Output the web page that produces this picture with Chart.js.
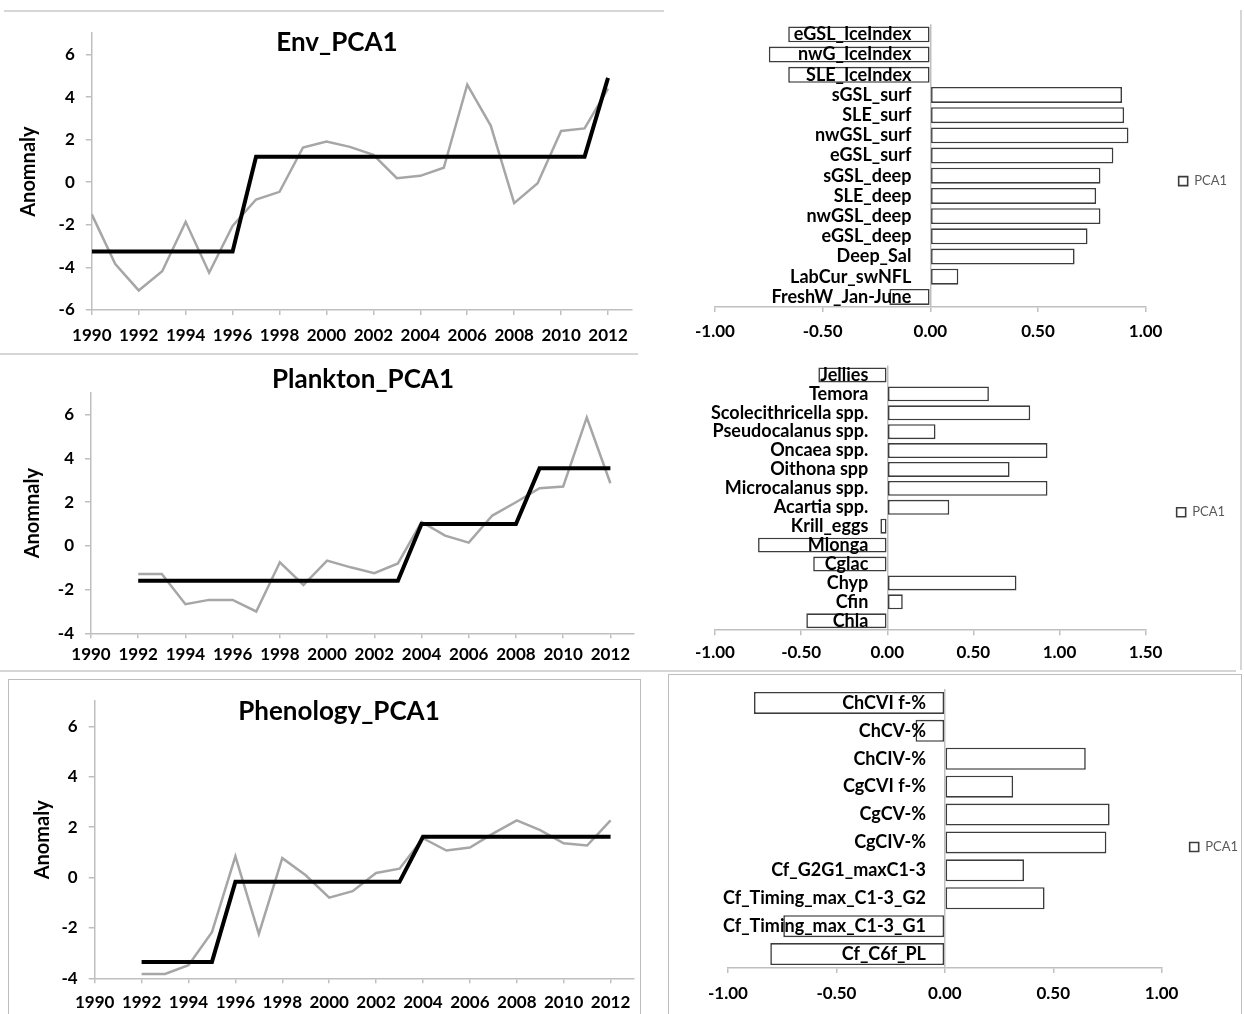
<!DOCTYPE html>
<html><head><meta charset="utf-8">
<script src="https://cdn.jsdelivr.net/npm/chart.js@4/dist/chart.umd.min.js"></script>
<style>
html,body{margin:0;padding:0;background:#fff;overflow:hidden;width:1244px;height:1014px;position:relative;}
canvas{position:absolute;display:block;}
.hl{position:absolute;height:0;border-top:2px solid #d6d6d6;}
.vl{position:absolute;width:0;border-left:2px solid #d6d6d6;}
.frame{position:absolute;border:1px solid #bdbdbd;}
</style></head><body>
<div class="hl" style="left:4px;top:10px;width:660px"></div>
<div class="hl" style="left:0px;top:353px;width:638px"></div>
<div class="hl" style="left:0px;top:670px;width:1236px"></div>
<div class="vl" style="left:1240px;top:10px;height:660px"></div>
<div class="frame" style="left:8px;top:679px;width:631px;height:345px"></div>
<div class="frame" style="left:668px;top:674px;width:572px;height:350px"></div>

<canvas id="envLine" width="665" height="340" style="left:0px;top:12px"></canvas>
<canvas id="planktonLine" width="665" height="315" style="left:0px;top:357px"></canvas>
<canvas id="phenologyLine" width="640" height="334" style="left:0px;top:680px"></canvas>
<canvas id="envBar" width="576" height="338" style="left:665px;top:0px"></canvas>
<canvas id="planktonBar" width="576" height="319" style="left:665px;top:340px"></canvas>
<canvas id="phenologyBar" width="579" height="345" style="left:670px;top:660px"></canvas>

<script>
// ---------- DATA ----------
const envYears = [1990,1991,1992,1993,1994,1995,1996,1997,1998,1999,2000,2001,2002,2003,2004,2005,2006,2007,2008,2009,2010,2011,2012];
const envAnomaly = [-1.51,-3.84,-5.08,-4.18,-1.86,-4.25,-2.05,-0.81,-0.45,1.63,1.91,1.66,1.29,0.19,0.30,0.68,4.58,2.66,-0.98,-0.05,2.41,2.53,4.40];
const envFit = [-3.25,-3.25,-3.25,-3.25,-3.25,-3.25,-3.25,1.20,1.20,1.20,1.20,1.20,1.20,1.20,1.20,1.20,1.20,1.20,1.20,1.20,1.20,1.20,4.90];

const planktonYears = [1992,1993,1994,1995,1996,1997,1998,1999,2000,2001,2002,2003,2004,2005,2006,2007,2008,2009,2010,2011,2012];
const planktonAnomaly = [-1.28,-1.28,-2.67,-2.47,-2.47,-3.00,-0.75,-1.79,-0.67,-0.98,-1.25,-0.80,1.10,0.47,0.15,1.39,2.00,2.64,2.72,5.88,2.87];
const planktonFit = [-1.60,-1.60,-1.60,-1.60,-1.60,-1.60,-1.60,-1.60,-1.60,-1.60,-1.60,-1.60,1.00,1.00,1.00,1.00,1.00,3.55,3.55,3.55,3.55];

const phenologyYears = [1992,1993,1994,1995,1996,1997,1998,1999,2000,2001,2002,2003,2004,2005,2006,2007,2008,2009,2010,2011,2012];
const phenologyAnomaly = [-3.83,-3.83,-3.48,-2.17,0.84,-2.24,0.77,0.09,-0.80,-0.54,0.18,0.35,1.56,1.07,1.19,1.75,2.27,1.88,1.36,1.27,2.27];
const phenologyFit = [-3.35,-3.35,-3.35,-3.35,-0.17,-0.17,-0.17,-0.17,-0.17,-0.17,-0.17,-0.17,1.62,1.62,1.62,1.62,1.62,1.62,1.62,1.62,1.62];

const envVars = ['eGSL_IceIndex','nwG_IceIndex','SLE_IceIndex','sGSL_surf','SLE_surf','nwGSL_surf','eGSL_surf','sGSL_deep','SLE_deep','nwGSL_deep','eGSL_deep','Deep_Sal','LabCur_swNFL','FreshW_Jan-June'];
const envLoadings = [-0.66,-0.75,-0.66,0.89,0.90,0.92,0.85,0.79,0.77,0.79,0.73,0.67,0.13,-0.19];

const planktonVars = ['Jellies','Temora','Scolecithricella spp.','Pseudocalanus spp.','Oncaea spp.','Oithona spp','Microcalanus spp.','Acartia spp.','Krill_eggs','Mlonga','Cglac','Chyp','Cfin','Chla'];
const planktonLoadings = [-0.40,0.59,0.83,0.28,0.93,0.71,0.93,0.36,-0.04,-0.75,-0.43,0.75,0.09,-0.47];

const phenologyVars = ['ChCVI f-%','ChCV-%','ChCIV-%','CgCVI f-%','CgCV-%','CgCIV-%','Cf_G2G1_maxC1-3','Cf_Timing_max_C1-3_G2','Cf_Timing_max_C1-3_G1','Cf_C6f_PL'];
const phenologyLoadings = [-0.88,-0.135,0.65,0.315,0.76,0.745,0.365,0.46,-0.745,-0.805];

const seriesName = 'PCA1';

// ---------- RENDERING ----------
const FONT = 'Lato, "Noto Sans", sans-serif';
const AXIS = '#bfbfbf';

const overlayTitle = {
  id: 'overlayTitle',
  afterDraw(chart, args, opts) {
    if (!opts || !opts.text) return;
    const ctx = chart.ctx;
    ctx.save();
    ctx.font = 'bold ' + opts.size + 'px ' + FONT;
    ctx.fillStyle = '#000';
    ctx.textAlign = 'center';
    ctx.textBaseline = 'middle';
    ctx.fillText(opts.text, opts.x, opts.y);
    ctx.restore();
  }
};

function lineChart(id, c) {
  new Chart(document.getElementById(id), {
    type: 'line',
    data: { datasets: [
      { label: 'fit', data: c.years.map((yr, i) => ({x: yr, y: c.fit[i]})), borderColor: '#000', borderWidth: 4, pointRadius: 0, tension: 0, borderJoinStyle: 'miter' },
      { label: 'anomaly', data: c.years.map((yr, i) => ({x: yr, y: c.anom[i]})), borderColor: '#a6a6a6', borderWidth: 2.5, pointRadius: 0, tension: 0 }
    ]},
    options: {
      responsive: false, animation: false, events: [],
      layout: { padding: { left: 0, right: c.padR, top: c.padT, bottom: 0 } },
      plugins: { legend: { display: false }, tooltip: { enabled: false },
        overlayTitle: { text: c.title, x: c.tx, y: c.ty, size: 26 } },
      scales: {
        x: { type: 'linear', min: 1990, max: 2013,
          afterFit: s => { s.height = c.xH; },
          ticks: { stepSize: 2, includeBounds: false, autoSkip: false, minRotation: 0, maxRotation: 0,
            callback: v => String(v), color: '#000', padding: c.xPad,
            font: { family: FONT, size: 17, weight: 'bold' } },
          grid: { display: true, drawOnChartArea: false, tickLength: 5, color: AXIS, lineWidth: 1.5 },
          border: { color: AXIS, width: 1.5 } },
        y: { min: c.ymin, max: 7,
          afterFit: s => { s.width = c.yW; },
          ticks: { stepSize: 2, includeBounds: false, color: '#000', padding: 11,
            font: { family: FONT, size: 17, weight: 'bold' } },
          grid: { display: true, drawOnChartArea: false, tickLength: 6, color: AXIS, lineWidth: 1.5 },
          border: { color: AXIS, width: 1.5 },
          title: { display: true, text: c.ytitle, color: '#000', padding: { top: c.ytPad, bottom: 0 },
            font: { family: FONT, size: 20, weight: 'bold' } } }
      }
    },
    plugins: [overlayTitle]
  });
}

function barChart(id, c) {
  new Chart(document.getElementById(id), {
    type: 'bar',
    data: { labels: c.vars, datasets: [
      { label: seriesName, data: c.vals, backgroundColor: '#ffffff', borderColor: '#3c3c3c', borderWidth: 1.6,
        borderSkipped: false, barPercentage: 0.79, categoryPercentage: 1 }
    ]},
    options: {
      indexAxis: 'y', responsive: false, animation: false, events: [],
      layout: { padding: { left: c.padL, right: c.padR, top: c.padT, bottom: 0 } },
      plugins: { tooltip: { enabled: false },
        legend: { position: 'right',
          labels: { boxWidth: 9, boxHeight: 9, padding: c.legPad, color: '#595959',
            font: { family: FONT, size: 13 } } } },
      scales: {
        x: { type: 'linear', min: c.xmin, max: c.xmax,
          afterFit: s => { s.height = c.xH; },
          ticks: { stepSize: 0.5, callback: v => Number(v).toFixed(2), color: '#000', padding: c.xPad,
            maxRotation: 0, minRotation: 0, autoSkip: false,
            font: { family: FONT, size: 17, weight: 'bold' } },
          grid: { color: ctx => (ctx.tick && ctx.tick.value === 0) ? AXIS : 'rgba(0,0,0,0)', tickColor: AXIS, tickLength: 5, lineWidth: 1.5 },
          border: { color: AXIS, width: 1.5 } },
        y: { type: 'category', position: { x: c.labelAt },
          grid: { display: false }, border: { display: false },
          ticks: { autoSkip: false, padding: 0, color: '#000', z: 2,
            font: { family: FONT, size: 18, weight: 'bold' } } }
      }
    }
  });
}

lineChart('envLine', { years: envYears, anom: envAnomaly, fit: envFit, title: 'Env_PCA1', tx: 337, ty: 31,
  ymin: -6, ytitle: 'Anomnaly', padR: 33.5, padT: 19.7, xH: 42, yW: 91.8, ytPad: 16.3, xPad: 10 });
lineChart('planktonLine', { years: planktonYears, anom: planktonAnomaly, fit: planktonFit, title: 'Plankton_PCA1', tx: 363, ty: 23,
  ymin: -4, ytitle: 'Anomnaly', padR: 31, padT: 36, xH: 38.7, yW: 91, ytPad: 20.6, xPad: 6.5 });
lineChart('phenologyLine', { years: phenologyYears, anom: phenologyAnomaly, fit: phenologyFit, title: 'Phenology_PCA1', tx: 339, ty: 31.7,
  ymin: -4, ytitle: 'Anomaly', padR: 5, padT: 17.8, xH: 35.7, yW: 94.7, ytPad: 31, xPad: 9.5 });

barChart('envBar', { vars: envVars, vals: envLoadings, xmin: -1, xmax: 1, labelAt: -0.088,
  padL: 50, padR: 4, padT: 24.3, xH: 31, xPad: 9, legPad: 33 });
barChart('planktonBar', { vars: planktonVars, vals: planktonLoadings, xmin: -1, xmax: 1.5, labelAt: -0.11,
  padL: 50, padR: 6, padT: 25.5, xH: 28.8, xPad: 7, legPad: 31 });
barChart('phenologyBar', { vars: phenologyVars, vals: phenologyLoadings, xmin: -1, xmax: 1, labelAt: -0.087,
  padL: 58, padR: 1, padT: 29, xH: 37, xPad: 10, legPad: 28 });
</script>
</body></html>
